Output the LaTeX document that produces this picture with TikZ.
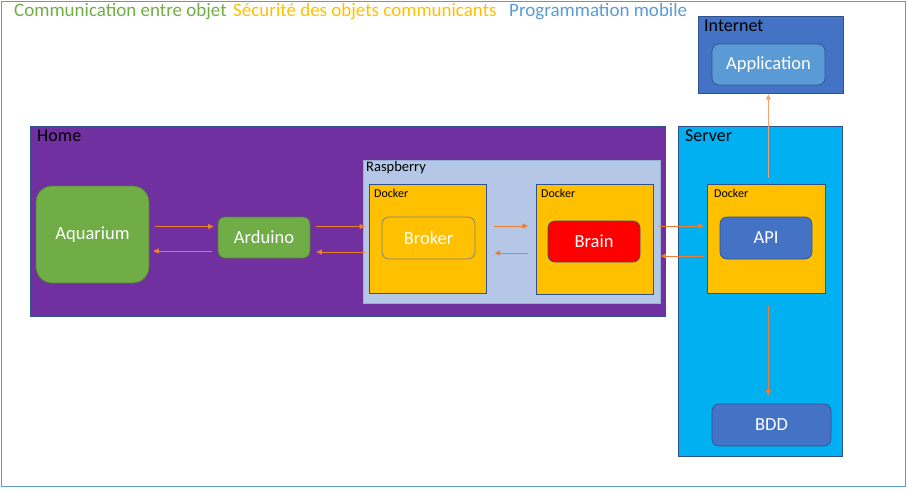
\documentclass[tikz,border=0pt]{standalone}
\usepackage{fontspec}
\setmainfont{Carlito}
\usetikzlibrary{arrows.meta,calc}
\definecolor{cPurple}{HTML}{7030A0}
\definecolor{cGreen}{HTML}{70AD47}
\definecolor{cGreenEdge}{HTML}{507E32}
\definecolor{cYellow}{HTML}{FFC000}
\definecolor{cRed}{HTML}{FF0000}
\definecolor{cBlue}{HTML}{4472C4}
\definecolor{cLight}{HTML}{5B9BD5}
\definecolor{cCyan}{HTML}{00B0F0}
\definecolor{cRasp}{HTML}{B4C7E7}
\definecolor{cEdge}{HTML}{2F528F}
\definecolor{cGray}{HTML}{7F7F7F}
\definecolor{cOrange}{HTML}{ED7D31}
\begin{document}
\begin{tikzpicture}[x=1pt,y=-1pt,
  box/.style={draw=cEdge, line width=0.7pt, anchor=north west, inner sep=0pt},
  inner/.style={draw=cEdge, rounded corners=7pt, line width=0.7pt, text=white, font=\fontsize{18.5}{22}\selectfont, inner sep=0pt},
  hdr/.style={anchor=base west, font=\fontsize{18}{21}\selectfont, inner sep=0pt},
  title/.style={anchor=base west, font=\fontsize{19}{22}\selectfont, inner sep=0pt},
  docklbl/.style={anchor=base west, font=\fontsize{12}{14}\selectfont, inner sep=0pt},
  arr/.style={draw=cOrange, line width=0.8pt, -{Triangle[length=5.5pt,width=5pt]}},
]
\useasboundingbox (0,0) rectangle (907,490);
\draw[cLight, line width=1pt] (1,1) rectangle (905,486);

% titles
\node[title, text=cGreen] (t1) at (14,16) {Communication entre objet};
\node[title, text=cYellow] (t2) at (233,16) {Sécurité des objets communicants};
\node[title, text=cLight] (t3) at (509,16) {Programmation mobile};

% containers
\node[box, fill=cPurple, minimum width=635pt, minimum height=190pt] (home) at (30,126) {};
\node[box, fill=cRasp, draw=cRasp!80!cEdge, minimum width=297pt, minimum height=143pt] (rasp) at (363,160) {};
\node[box, fill=cYellow, minimum width=117pt, minimum height=109pt] (dock1) at (369,184) {};
\node[box, fill=cYellow, minimum width=117pt, minimum height=110pt] (dock2) at (536,184) {};
\node[box, fill=cCyan, minimum width=164pt, minimum height=330pt] (server) at (678,126) {};
\node[box, fill=cYellow, minimum width=118pt, minimum height=109pt] (dock3) at (707,184) {};
\node[box, fill=cBlue, minimum width=145pt, minimum height=77pt] (internet) at (698,16) {};

% container labels
\node[hdr] (homeL) at (37,141) {Home};
\node[hdr] (serverL) at (685,141) {Server};
\node[hdr] (internetL) at (704,31) {Internet};
\node[hdr, font=\fontsize{14.5}{17}\selectfont] (raspL) at (366,171) {Raspberry};
\node[docklbl] (d1L) at (374,197) {Docker};
\node[docklbl] (d2L) at (541,197) {Docker};
\node[docklbl] (d3L) at (714,197) {Docker};

% inner nodes
\node[inner, fill=cGreen, draw=cGreenEdge, rounded corners=16pt, minimum width=113pt, minimum height=97pt] (aquarium) at (92.5,234.5) {Aquarium};
\node[inner, fill=cGreen, draw=cGreenEdge, minimum width=92pt, minimum height=41pt] (arduino) at (264,237.5) {Arduino};
\node[inner, fill=cYellow, draw=cGray, minimum width=93pt, minimum height=42pt] (broker) at (428.5,238) {Broker};
\node[inner, fill=cRed, minimum width=92pt, minimum height=41pt] (brain) at (594,241.5) {Brain};
\node[inner, fill=cBlue, minimum width=92pt, minimum height=42pt] (api) at (766,238) {API};
\node[inner, fill=cBlue, minimum width=119pt, minimum height=42pt] (bdd) at (771.5,425) {BDD};
\node[inner, fill=cLight, minimum width=113pt, minimum height=41pt] (app) at (768.5,64.5) {Application};

% connectors
\draw[arr, shorten <=6pt, shorten >=4pt] ([yshift=8pt]aquarium.east) -- ([yshift=8pt]aquarium.east -| arduino.west);
\draw[arr, shorten <=6pt, shorten >=4pt] ([yshift=-16.5pt]aquarium.east -| arduino.west) -- ([yshift=-16.5pt]aquarium.east);
\draw[arr, shorten <=6pt, shorten >=4pt] ([yshift=11pt]arduino.east) -- ([yshift=11pt]arduino.east -| dock1.west);
\draw[arr, shorten <=4pt, shorten >=6pt] ([yshift=-14.5pt]arduino.east -| dock1.west) -- ([yshift=-14.5pt]arduino.east);
\draw[arr, shorten <=7pt, shorten >=8pt] ([yshift=12pt]broker.center -| dock1.east) -- ([yshift=12pt]broker.center -| dock2.west);
\draw[arr, shorten <=8pt, shorten >=8pt] ([yshift=-15pt]broker.center -| dock2.west) -- ([yshift=-15pt]broker.center -| dock1.east);
\draw[arr, shorten <=5pt, shorten >=3pt] ([yshift=15.5pt]brain.center -| dock2.east) -- ([yshift=15.5pt]brain.center -| dock3.west);
\draw[arr, shorten <=3pt, shorten >=7pt] ([yshift=-14.5pt]brain.center -| dock3.west) -- ([yshift=-14.5pt]brain.center -| dock2.east);
\draw[arr, shorten <=11pt, shorten >=8pt] ([xshift=2pt]dock3.south) -- ([xshift=2pt]dock3.south |- bdd.north);
\draw[arr, draw=cOrange!70, shorten <=6pt, shorten >=0.5pt] ([xshift=2pt]dock3.north) -- ([xshift=2pt]dock3.north |- internet.south);
\end{tikzpicture}
\end{document}
